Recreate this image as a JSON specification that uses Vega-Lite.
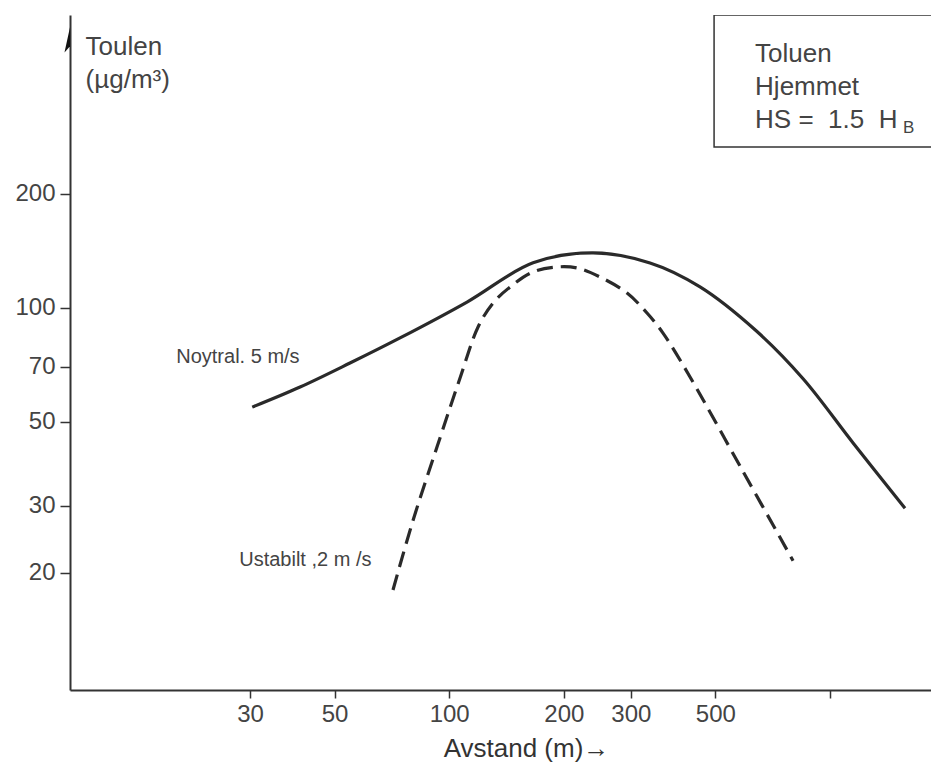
{
  "$schema": "https://vega.github.io/schema/vega-lite/v6.json",
  "width": 861,
  "height": 675,
  "autosize": {"type": "none"},
  "padding": {"left": 70, "top": 15, "right": 0, "bottom": 78},
  "background": "white",
  "config": {
    "view": {"stroke": null},
    "font": "Liberation Sans",
    "axis": {"grid": false}
  },
  "datasets": {
    "curves": [
      {"series": "Noytral", "x": 30.4, "y": 54.7},
      {"series": "Noytral", "x": 40.6, "y": 61.8},
      {"series": "Noytral", "x": 54.9, "y": 71.5},
      {"series": "Noytral", "x": 74.3, "y": 83.3},
      {"series": "Noytral", "x": 111.4, "y": 103.6},
      {"series": "Noytral", "x": 166.1, "y": 131.5},
      {"series": "Noytral", "x": 238.7, "y": 139.6},
      {"series": "Noytral", "x": 336.9, "y": 131.4},
      {"series": "Noytral", "x": 455.8, "y": 113.6},
      {"series": "Noytral", "x": 640, "y": 87},
      {"series": "Noytral", "x": 850, "y": 65},
      {"series": "Noytral", "x": 1150, "y": 44},
      {"series": "Noytral", "x": 1574, "y": 29.6},
      {"series": "Ustabilt", "x": 71.2, "y": 18.0},
      {"series": "Ustabilt", "x": 80.4, "y": 27.5},
      {"series": "Ustabilt", "x": 92.9, "y": 42.9},
      {"series": "Ustabilt", "x": 106.8, "y": 65.3},
      {"series": "Ustabilt", "x": 119.1, "y": 89.0},
      {"series": "Ustabilt", "x": 130.4, "y": 103.0},
      {"series": "Ustabilt", "x": 144.5, "y": 113.5},
      {"series": "Ustabilt", "x": 166.1, "y": 124.4},
      {"series": "Ustabilt", "x": 192.0, "y": 128.2},
      {"series": "Ustabilt", "x": 216.7, "y": 127.4},
      {"series": "Ustabilt", "x": 249.0, "y": 120.6},
      {"series": "Ustabilt", "x": 293.2, "y": 109.4},
      {"series": "Ustabilt", "x": 330.8, "y": 96.9},
      {"series": "Ustabilt", "x": 364.4, "y": 85.8},
      {"series": "Ustabilt", "x": 429.1, "y": 65.7},
      {"series": "Ustabilt", "x": 580.6, "y": 38.2},
      {"series": "Ustabilt", "x": 800, "y": 21.5}
    ],
    "labels": [
      {"label": "Toulen", "x": 11.1, "y": 465, "size": 26},
      {"label": "(µg/m³)", "x": 11.1, "y": 380.4, "size": 26},
      {"label": "Toluen", "x": 635.8, "y": 445.7, "size": 26},
      {"label": "Hjemmet", "x": 635.8, "y": 364.7, "size": 26},
      {"label": "HS =\u00a0\u00a01.5\u00a0\u00a0H", "x": 635.8, "y": 298.4, "size": 26},
      {"label": "B", "x": 1555.6, "y": 289.5, "size": 17},
      {"label": "Noytral. 5 m/s", "x": 19.2, "y": 71.5, "size": 20},
      {"label": "Ustabilt ,2 m /s", "x": 28.1, "y": 20.8, "size": 20}
    ]
  },
  "encoding": {
    "x": {
      "field": "x", "type": "quantitative",
      "scale": {"type": "log", "domain": [10.1, 1842], "nice": false},
      "axis": {
        "values": [30, 50, 100, 200, 300, 500, 1000],
        "labelExpr": "datum.value == 1000 ? '' : datum.label",
        "format": "d",
        "title": "Avstand (m)→",
        "titleFontSize": 26, "titleFontWeight": "normal", "titleColor": "#333",
        "titlePadding": 9, "titleX": 456,
        "labelFontSize": 24, "labelColor": "#444", "labelPadding": 4,
        "tickSize": 8, "tickColor": "#333", "tickWidth": 1.5,
        "domainColor": "#333", "domainWidth": 2,
        "labelFlush": false
      }
    },
    "y": {
      "field": "y", "type": "quantitative",
      "scale": {"type": "log", "domain": [9.8, 593], "nice": false},
      "axis": {
        "values": [20, 30, 50, 70, 100, 200],
        "format": "d",
        "title": null,
        "labelFontSize": 24, "labelColor": "#444", "labelPadding": 5,
        "tickSize": 10, "tickColor": "#333", "tickWidth": 1.5,
        "domainColor": "#333", "domainWidth": 2
      }
    }
  },
  "layer": [
    {
      "mark": {"type": "rule", "color": "#333", "strokeWidth": 2},
      "encoding": {"y": {"datum": 593, "type": "quantitative"}, "x": null}
    },
    {
      "data": {"values": [{"x": 496.2, "x2": 5000, "y": 593, "y2": 265.9}]},
      "mark": {"type": "rect", "fill": "white", "stroke": "#333", "strokeWidth": 1.5, "clip": true},
      "encoding": {"x2": {"field": "x2"}, "y2": {"field": "y2"}}
    },
    {
      "data": {"name": "curves"},
      "transform": [{"filter": "datum.series == 'Noytral'"}],
      "mark": {"type": "line", "color": "#2a2a2a", "strokeWidth": 3.2, "interpolate": "catmull-rom"},
      "encoding": {}
    },
    {
      "data": {"name": "curves"},
      "transform": [{"filter": "datum.series == 'Ustabilt'"}],
      "mark": {"type": "line", "color": "#2a2a2a", "strokeWidth": 3.2, "interpolate": "catmull-rom", "strokeDash": [16, 8]},
      "encoding": {}
    },
    {
      "data": {"name": "labels"},
      "mark": {"type": "text", "align": "left", "baseline": "alphabetic", "color": "#444"},
      "encoding": {
        "text": {"field": "label"},
        "size": {"field": "size", "type": "quantitative", "scale": null}
      }
    },
    {
      "data": {"values": [{"x": 10.1, "y": 500}]},
      "mark": {"type": "point", "shape": "M 0 -1 L -0.35 0.6 L 0 0.2 Z", "filled": true, "color": "#111", "size": 1000, "opacity": 1},
      "encoding": {}
    }
  ]
}
